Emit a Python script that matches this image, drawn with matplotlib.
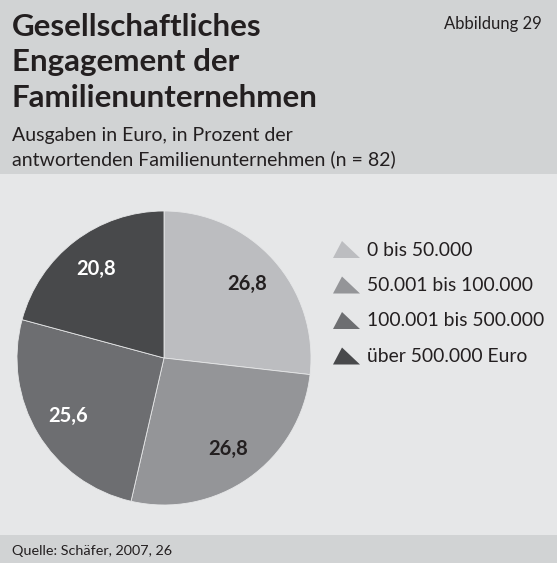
import matplotlib
matplotlib.use('Agg')
import matplotlib.pyplot as plt
from matplotlib.patches import Rectangle, Polygon

plt.rcParams['font.family'] = ['Lato', 'DejaVu Sans']

# Daten
kategorien = ['0 bis 50.000', '50.001 bis 100.000', '100.001 bis 500.000', 'über 500.000 Euro']
anteile = [26.8, 26.8, 25.6, 20.8]
farben = ['#bcbdc0', '#949598', '#6d6e71', '#48494b']
textfarben = ['#231f20', '#231f20', 'white', 'white']

W, H = 557, 563
fig = plt.figure(figsize=(W / 100, H / 100), dpi=100)
fig.patch.set_facecolor('#e6e7e8')

def fx(px):
    return px / W

def fy(py):
    return 1 - py / H

# Kopf- und Fussband
fig.patches.append(Rectangle((0, fy(174)), 1, 174 / H, transform=fig.transFigure,
                             facecolor='#d1d3d4', edgecolor='none', zorder=0))
fig.patches.append(Rectangle((0, 0), 1, (H - 535) / H, transform=fig.transFigure,
                             facecolor='#d1d3d4', edgecolor='none', zorder=0))

dunkel = '#231f20'
titel = ['Gesellschaftliches', 'Engagement der', 'Familienunternehmen']
for i, zeile in enumerate(titel):
    fig.text(fx(12), fy(36 + i * 35.5), zeile, fontsize=22.5, fontweight='bold',
             color=dunkel, va='baseline', ha='left')
fig.text(fx(542), fy(29), 'Abbildung 29', fontsize=12, color=dunkel, ha='right', va='baseline')
fig.text(fx(12), fy(141), 'Ausgaben in Euro, in Prozent der', fontsize=14, color=dunkel, va='baseline')
fig.text(fx(12), fy(165), 'antwortenden Familienunternehmen (n = 82)', fontsize=14, color=dunkel, va='baseline')
fig.text(fx(12), fy(555), 'Quelle: Schäfer, 2007, 26', fontsize=10.4, color=dunkel, va='baseline')

# Torte
cx, cy, r = 164, 358, 147
ax = fig.add_axes([fx(cx - r), fy(cy + r), 2 * r / W, 2 * r / H])
ax.set_facecolor('none')
wedges, texts, autotexts = ax.pie(
    anteile, colors=farben, startangle=90, counterclock=False, radius=1,
    autopct=lambda p: f'{p:.1f}'.replace('.', ','), pctdistance=0.76,
    wedgeprops=dict(edgecolor='#e6e7e8', linewidth=0.6))
for t, c in zip(autotexts, textfarben):
    t.set_color(c)
    t.set_fontsize(14.5)
    t.set_fontweight('bold')
ax.set_xlim(-1, 1)
ax.set_ylim(-1, 1)
ax.set_aspect('equal')
ax.axis('off')

# Legende mit Dreiecksmarkern
for i, (kat, farbe) in enumerate(zip(kategorien, farben)):
    y = 250 + i * 35.5
    tri = Polygon([(fx(333), fy(y + 8)), (fx(360), fy(y + 8)), (fx(342), fy(y - 9))],
                  closed=True, transform=fig.transFigure, facecolor=farbe, edgecolor='none')
    fig.patches.append(tri)
    fig.text(fx(367), fy(y), kat, fontsize=13.9, color=dunkel, va='center', ha='left')

fig.savefig('out.png', dpi=100, facecolor=fig.get_facecolor())
